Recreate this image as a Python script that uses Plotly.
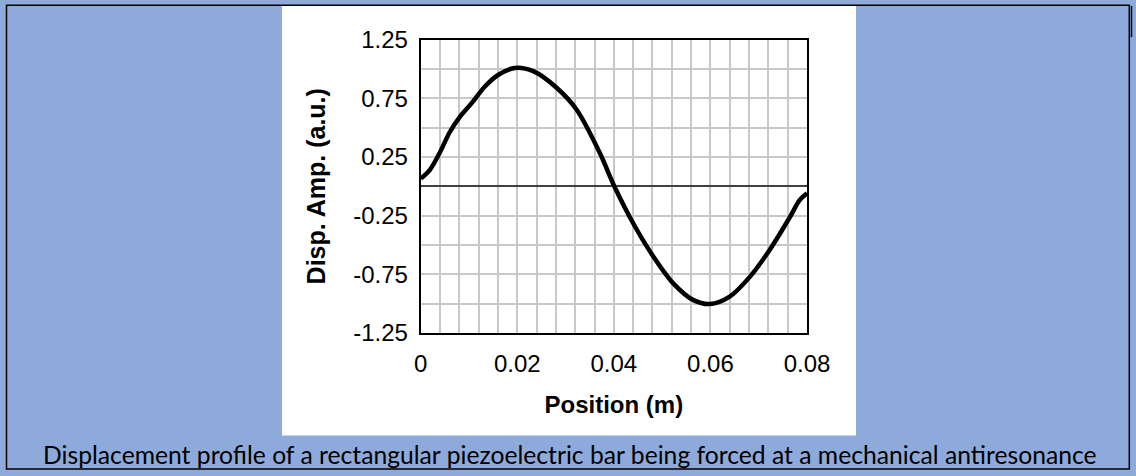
import plotly.graph_objects as go

W, H = 1136, 476

# displacement profile
position_m = [0.0, 0.0019, 0.0040, 0.0060, 0.0080, 0.0106, 0.0133, 0.0161, 0.0195,
              0.0233, 0.0282, 0.0323, 0.0371, 0.0401, 0.0440, 0.0482, 0.0523,
              0.0565, 0.0599, 0.0640, 0.0682, 0.0723, 0.0765, 0.0785, 0.0800]
disp_amp = [0.065, 0.14, 0.29, 0.46, 0.585, 0.71, 0.85, 0.95, 1.008,
            0.98, 0.837, 0.652, 0.283, 0.0, -0.315, -0.60, -0.827,
            -0.97, -1.003, -0.94, -0.77, -0.54, -0.26, -0.116, -0.06]

x_ticks = [0, 0.02, 0.04, 0.06, 0.08]
x_ticklabels = ["0", "0.02", "0.04", "0.06", "0.08"]
y_ticks = [1.25, 0.75, 0.25, -0.25, -0.75, -1.25]
y_ticklabels = ["1.25", "0.75", "0.25", "-0.25", "-0.75", "-1.25"]

caption = ("Displacement profile of a rectangular piezoelectric bar being forced "
           "at a mechanical antiresonance")


def px(x):
    return x / W


def py(y):
    return 1 - y / H


fig = go.Figure()
fig.add_trace(go.Scatter(
    x=position_m, y=disp_amp, mode="lines",
    line=dict(color="black", width=4.5, shape="spline", smoothing=0.9),
    hoverinfo="skip", showlegend=False,
))

grid = "#c8c8c8"
fig.update_xaxes(
    domain=[px(420.7), px(807)], range=[0, 0.08], automargin=False,
    tickvals=x_ticks, ticktext=x_ticklabels,
    showgrid=True, gridcolor=grid, gridwidth=1.5,
    minor=dict(dtick=0.004, tick0=0, showgrid=True, gridcolor=grid, gridwidth=1.5),
    showline=True, linecolor="black", linewidth=2, mirror=True,
    zeroline=False, ticks="", ticklabelstandoff=8,
    tickfont=dict(family="Liberation Sans", size=24, color="black"),
    title=dict(text="<b>Position (m)</b>", standoff=20,
               font=dict(family="Liberation Sans", size=24, color="black")),
)
fig.update_yaxes(
    domain=[py(333), py(39.5)], range=[-1.25, 1.25], automargin=False,
    tickvals=y_ticks, ticktext=y_ticklabels,
    showgrid=True, gridcolor=grid, gridwidth=1.5,
    minor=dict(dtick=0.25, tick0=0, showgrid=True, gridcolor=grid, gridwidth=1.5),
    showline=True, linecolor="black", linewidth=2, mirror=True,
    zeroline=True, zerolinecolor="#404040", zerolinewidth=1.5,
    ticks="", ticklabelstandoff=6,
    tickfont=dict(family="Liberation Sans", size=24, color="black"),
    title=dict(text="<b>Disp. Amp. (a.u.)</b>", standoff=20,
               font=dict(family="Liberation Sans", size=25, color="black")),
)

shapes = [
    # white panel behind the chart
    dict(type="rect", xref="paper", yref="paper", layer="below",
         x0=px(282), x1=px(856), y0=py(435.5), y1=py(6),
         fillcolor="white", line=dict(width=0)),
    # outer border
    dict(type="rect", xref="paper", yref="paper",
         x0=px(6.5), x1=px(1129.3), y0=py(469), y1=py(5.3),
         line=dict(color="black", width=1.5)),
    dict(type="line", xref="paper", yref="paper",
         x0=px(1131.5), x1=px(1131.5), y0=py(37), y1=py(6),
         line=dict(color="black", width=1.5)),
]

fig.update_layout(
    width=W, height=H,
    margin=dict(l=0, r=0, t=0, b=0, autoexpand=False),
    paper_bgcolor="#8eaadb", plot_bgcolor="white",
    shapes=shapes,
    annotations=[dict(
        text=caption, xref="paper", yref="paper", x=px(570), y=py(454),
        xanchor="center", yanchor="middle", showarrow=False,
        font=dict(family="Lato", size=24.7, color="black"),
    )],
)

# drop the browser's default body margin so the figure fills the window
fig.write_html("out.html", config={"displayModeBar": False},
               post_script="document.body.style.margin = '0';")
